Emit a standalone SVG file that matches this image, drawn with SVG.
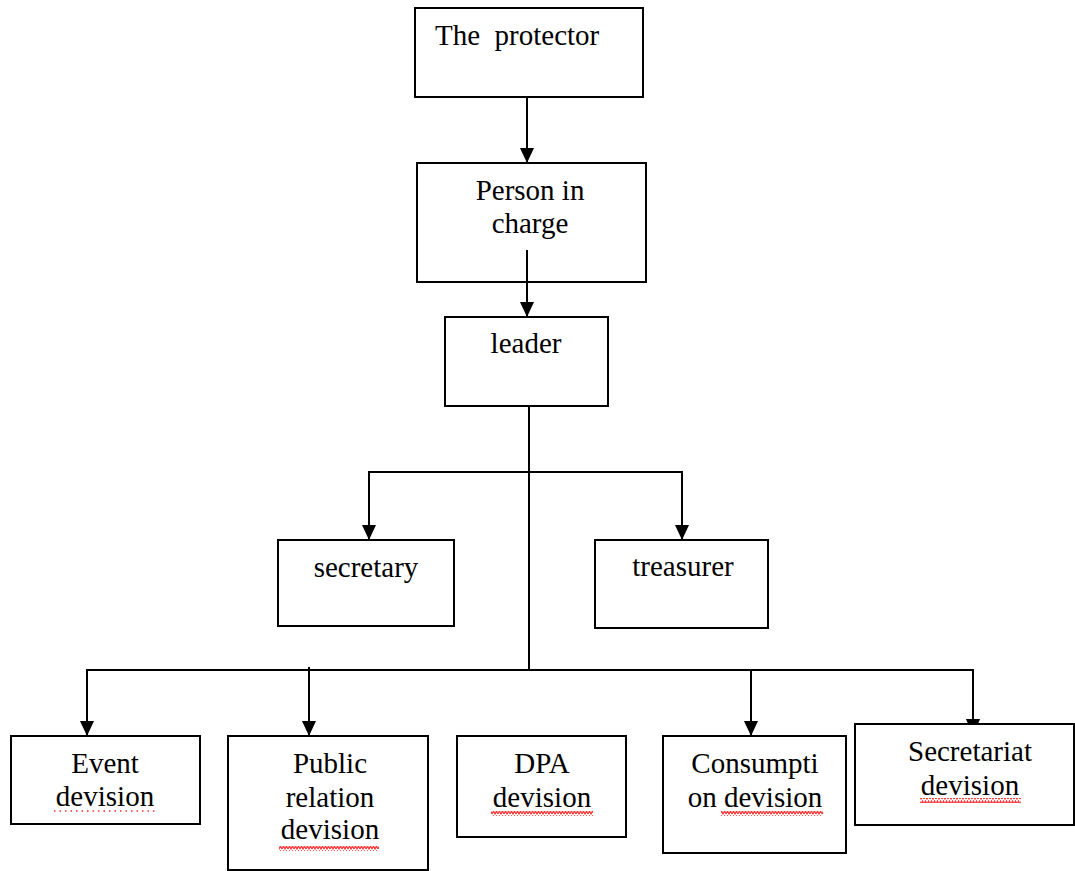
<svg xmlns="http://www.w3.org/2000/svg" width="1075" height="871" viewBox="0 0 1075 871">
<style>
.box{fill:#fff;stroke:#000;stroke-width:2}
.t{font-family:"Liberation Serif","Times New Roman",serif;font-size:29px;fill:#000}
.c{text-anchor:middle}
.ln{fill:none;stroke:#000;stroke-width:2}
.sq{fill:none;stroke:#ff3030;stroke-width:1.2}
.dot{fill:none;stroke:#ff3030;stroke-width:1.5;stroke-dasharray:1.5 4}
</style>
<defs>
<marker id="ah" markerUnits="userSpaceOnUse" markerWidth="15" markerHeight="14" refX="15" refY="7" orient="auto" viewBox="0 0 15 14">
<path d="M0,0 L15,7 L0,14 Z" fill="#000"/>
</marker>
<pattern id="wv" width="6" height="5" patternUnits="userSpaceOnUse"><path d="M0,4 L1.5,1 L3,4 L4.5,1 L6,4" class="sq"/></pattern>
</defs>
<rect width="1075" height="871" fill="#fff"/>
<g id="protector">
<rect class="box" x="415" y="8" width="228" height="89"/>
<text class="t" x="435" y="45" xml:space="preserve">The  protector</text>
</g>
<g id="person">
<rect class="box" x="417" y="163" width="229" height="119"/>
<text class="t c" x="530" y="200">Person in</text>
<text class="t c" x="530" y="233">charge</text>
</g>
<g id="leader">
<rect class="box" x="445" y="317" width="163" height="89"/>
<text class="t c" x="526" y="353">leader</text>
</g>
<g id="secretary">
<rect class="box" x="278" y="540" width="176" height="86"/>
<text class="t c" x="366" y="577">secretary</text>
</g>
<g id="treasurer">
<rect class="box" x="595" y="540" width="173" height="88"/>
<text class="t c" x="683" y="576">treasurer</text>
</g>
<g id="event">
<rect class="box" x="11" y="736" width="189" height="88"/>
<text class="t c" x="105" y="773">Event</text>
<text class="t c" x="105" y="806">devision</text>
<line class="dot" x1="54" y1="811" x2="155" y2="811"/>
</g>
<g id="public">
<rect class="box" x="228" y="736" width="200" height="134"/>
<text class="t c" x="330" y="773">Public</text>
<text class="t c" x="330" y="807">relation</text>
<text class="t c" x="330" y="839">devision</text>
<rect x="279" y="846" width="100" height="5" fill="url(#wv)"/>
</g>
<g id="dpa">
<rect class="box" x="457" y="736" width="169" height="101"/>
<text class="t c" x="542" y="773">DPA</text>
<text class="t c" x="542" y="807">devision</text>
<rect x="491" y="811" width="102" height="5" fill="url(#wv)"/>
</g>
<g id="consumption">
<rect class="box" x="663" y="736" width="183" height="117"/>
<text class="t c" x="755" y="773">Consumpti</text>
<text class="t c" x="755" y="807">on devision</text>
<rect x="721" y="811" width="102" height="5" fill="url(#wv)"/>
</g>
<g id="secretariat">
<rect class="box" x="855" y="724" width="219" height="101"/>
<text class="t c" x="970" y="761">Secretariat</text>
<text class="t c" x="970" y="795">devision</text>
<rect x="920" y="798" width="101" height="5" fill="url(#wv)"/>
</g>
<g id="connectors">
<line class="ln" x1="527" y1="97" x2="527" y2="163" marker-end="url(#ah)"/>
<line class="ln" x1="527" y1="250" x2="527" y2="317" marker-end="url(#ah)"/>
<line class="ln" x1="529" y1="406" x2="529" y2="670"/>
<line class="ln" x1="369" y1="472" x2="682" y2="472"/>
<line class="ln" x1="369" y1="471" x2="369" y2="540" marker-end="url(#ah)"/>
<line class="ln" x1="682" y1="471" x2="682" y2="540" marker-end="url(#ah)"/>
<line class="ln" x1="87" y1="670" x2="973" y2="670"/>
<line class="ln" x1="87" y1="669" x2="87" y2="736" marker-end="url(#ah)"/>
<line class="ln" x1="309" y1="667" x2="309" y2="736" marker-end="url(#ah)"/>
<line class="ln" x1="751" y1="669" x2="751" y2="736" marker-end="url(#ah)"/>
<line class="ln" x1="973" y1="669" x2="973" y2="724"/>
<path d="M966,719 L980,719 L978,724 L968,724 Z" fill="#000"/>
</g>
</svg>
